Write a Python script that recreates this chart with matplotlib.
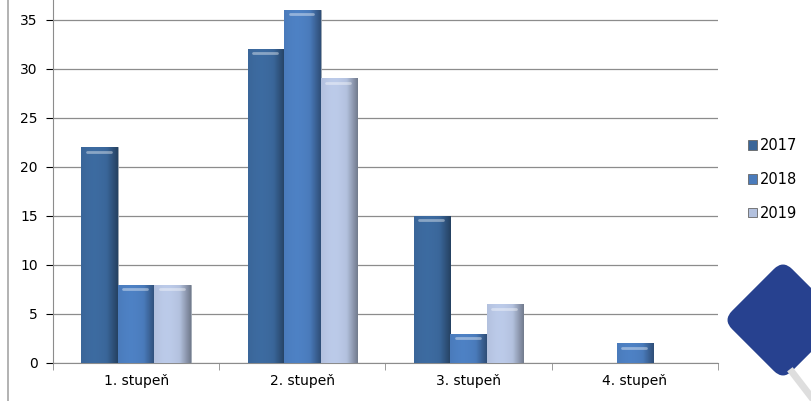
import numpy as np
import matplotlib.pyplot as plt
from matplotlib.patches import FancyBboxPatch
from matplotlib.colors import to_rgb
import matplotlib.transforms as mtransforms

# data
categories = ['1. stupeň', '2. stupeň', '3. stupeň', '4. stupeň']
years = ['2017', '2018', '2019']
v2017 = [22, 32, 15, 0]
v2018 = [8, 36, 3, 2]
v2019 = [8, 29, 6, 0]

colors = ['#3a6699', '#4a7bbb', '#b3c1de']

fig = plt.figure(figsize=(8.12, 4.01), dpi=100)
ax = fig.add_axes([53 / 812, 38 / 401, 665 / 812, 363 / 401])

x = np.arange(len(categories))
width = 0.22
series = [v2017, v2018, v2019]

bars_all = []
for i, vals in enumerate(series):
    bars = ax.bar(x + (i - 1) * width, vals, width, color=colors[i],
                  edgecolor='#9aa3ad', linewidth=0.6, label=years[i], zorder=3)
    bars_all.append(bars)

# shading on each bar to mimic the bevel look
grad = np.linspace(0, 1, 64)
for i, bars in enumerate(bars_all):
    base = np.array(to_rgb(colors[i]))
    shade = np.where(grad < 0.7, 1.0 + 0.05 * np.sin(grad / 0.7 * np.pi),
                     1.0 - 1.2 * (grad - 0.7))
    img = np.clip(base[None, :] * shade[:, None], 0, 1)[None, :, :]
    for b in bars:
        h = b.get_height()
        if h <= 0:
            continue
        x0 = b.get_x()
        im = ax.imshow(img, extent=[x0, x0 + b.get_width(), 0, h],
                       aspect='auto', zorder=4, interpolation='bilinear')
        im.set_clip_path(b)
        # light top rim
        ax.plot([x0 + b.get_width() * 0.15, x0 + b.get_width() * 0.8],
                [h - 0.45, h - 0.45], color='white', alpha=0.4,
                lw=2, zorder=5, solid_capstyle='round')

ax.set_xlim(-0.5, 3.5)
ax.set_ylim(0, 37)
ax.set_yticks(range(0, 36, 5))
ax.set_xticks(x)
ax.set_xticklabels(categories)
ax.set_xticks(np.arange(-0.5, 4.0, 1.0), minor=True)
ax.tick_params(axis='x', which='major', length=0, pad=8)
ax.tick_params(axis='x', which='minor', length=5, color='#8c8c8c')
ax.tick_params(axis='y', length=5, color='#8c8c8c', pad=6)
ax.tick_params(labelsize=10, colors='black')

ax.grid(axis='y', color='#8c8c8c', linewidth=0.9, zorder=0)
for s in ['top', 'right']:
    ax.spines[s].set_visible(False)
ax.spines['left'].set_color('#8c8c8c')
ax.spines['bottom'].set_color('#8c8c8c')

leg = ax.legend(loc='upper left', bbox_to_anchor=(742 / 812, 1 - 132 / 401),
                bbox_transform=fig.transFigure, frameon=False, fontsize=10.5,
                handlelength=0.65, handleheight=0.65, handletextpad=0.2,
                labelspacing=1.3, borderaxespad=0)
for p in leg.get_patches():
    p.set_edgecolor('#666666')

# slide frame line on the left
fig.add_artist(plt.Line2D([7.5 / 812, 7.5 / 812], [0, 1], color='#a6a6a6',
                          lw=1.2, transform=fig.transFigure))

# decorative diamond with a grey shadow
fig.add_artist(plt.Line2D([792 / 812, 812 / 812], [(401 - 372) / 401, (401 - 398) / 401],
                          color='#dedede', lw=5, transform=fig.transFigure))
trans = fig.dpi_scale_trans
side = 0.85
diamond = FancyBboxPatch((-side / 2, -side / 2), side, side,
                         boxstyle='round,pad=0,rounding_size=0.13',
                         facecolor='#27418f', edgecolor='none')
diamond.set_transform(mtransforms.Affine2D().rotate_deg(45)
                      .translate(783 / 100, (401 - 320) / 100) + trans)
fig.add_artist(diamond)

plt.savefig('out.png', dpi=100)
